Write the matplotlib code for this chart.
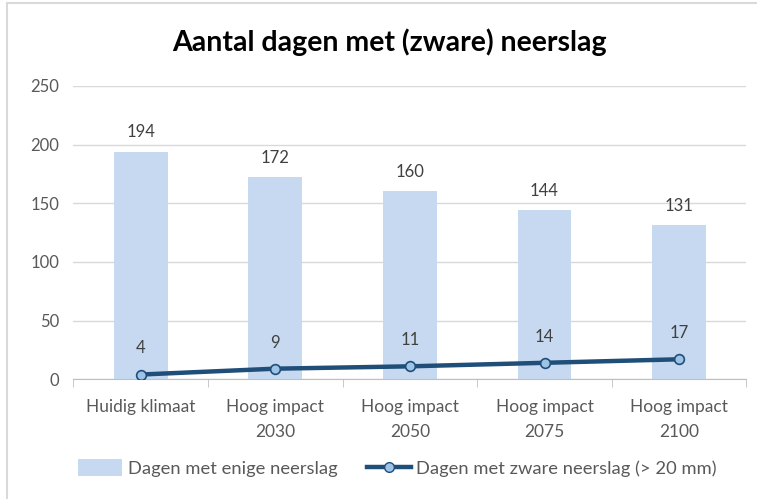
import matplotlib
matplotlib.use('Agg')
import matplotlib.pyplot as plt
from matplotlib.lines import Line2D
from matplotlib.patches import Patch, Rectangle
import numpy as np

plt.rcParams['font.family'] = ['Lato', 'DejaVu Sans']

categories = ['Huidig klimaat', 'Hoog impact\n2030', 'Hoog impact\n2050',
              'Hoog impact\n2075', 'Hoog impact\n2100']
days_any = [194, 172, 160, 144, 131]
days_heavy = [4, 9, 11, 14, 17]

BAR_COLOR = '#C6D9F0'
LINE_COLOR = '#1F4E79'
MARKER_FILL = '#9DC3E6'
TEXT_COLOR = '#595959'

fig = plt.figure(figsize=(7.57, 4.99), dpi=100)
ax = fig.add_axes([0.097, 0.24, 0.889, 0.588])

x = np.arange(len(categories))
bars = ax.bar(x, days_any, width=0.4, color=BAR_COLOR, zorder=2)
ax.plot(x, days_heavy, color=LINE_COLOR, linewidth=3.2, marker='o',
        markersize=7, markerfacecolor=MARKER_FILL, markeredgecolor=LINE_COLOR,
        markeredgewidth=1.2, zorder=3)

for xi, v in zip(x, days_any):
    ax.annotate(str(v), (xi, v), xytext=(0, 8), textcoords='offset points',
                ha='center', va='bottom', fontsize=12, color='#404040')
for xi, v in zip(x, days_heavy):
    ax.annotate(str(v), (xi, v), xytext=(0, 13), textcoords='offset points',
                ha='center', va='bottom', fontsize=12, color='#404040')

ax.set_xlim(-0.5, len(categories) - 0.5)
ax.set_ylim(0, 250)
ax.set_yticks(range(0, 251, 50))
ax.yaxis.grid(True, color='#D9D9D9', linewidth=1, zorder=0)
ax.set_axisbelow(True)
for s in ['top', 'right', 'left']:
    ax.spines[s].set_visible(False)
ax.spines['bottom'].set_color('#BFBFBF')
ax.set_xticks(x)
ax.set_xticklabels(categories, fontsize=12.5, color=TEXT_COLOR, linespacing=1.75)
ax.tick_params(axis='y', length=0, labelsize=12, labelcolor=TEXT_COLOR, pad=10)
ax.tick_params(axis='x', length=0, pad=14)
# category separator ticks
ax.set_xticks(np.arange(-0.5, len(categories), 1), minor=True)
ax.tick_params(axis='x', which='minor', length=6, color='#BFBFBF')

fig.text(0.515, 0.915, 'Aantal dagen met (zware) neerslag', ha='center',
         va='center', fontsize=20.5, fontweight='bold', color='black')

handles = [Patch(facecolor=BAR_COLOR, label='Dagen met enige neerslag'),
           Line2D([0], [0], color=LINE_COLOR, linewidth=3.2, marker='o',
                  markersize=7, markerfacecolor=MARKER_FILL,
                  markeredgecolor=LINE_COLOR,
                  label='Dagen met zware neerslag (> 20 mm)')]
leg = fig.legend(handles=handles, loc='center', bbox_to_anchor=(0.525, 0.062),
                 ncol=2, frameon=False, fontsize=13.2, handlelength=2.4,
                 handleheight=1.0, columnspacing=1.6, handletextpad=0.3)
for t in leg.get_texts():
    t.set_color(TEXT_COLOR)

# outer chart frame
fig.patches.append(Rectangle((0.009, -0.05), 1.2, 1.044, transform=fig.transFigure,
                             fill=False, edgecolor='#D9D9D9', linewidth=1.5))

fig.savefig('out.png', dpi=100)
